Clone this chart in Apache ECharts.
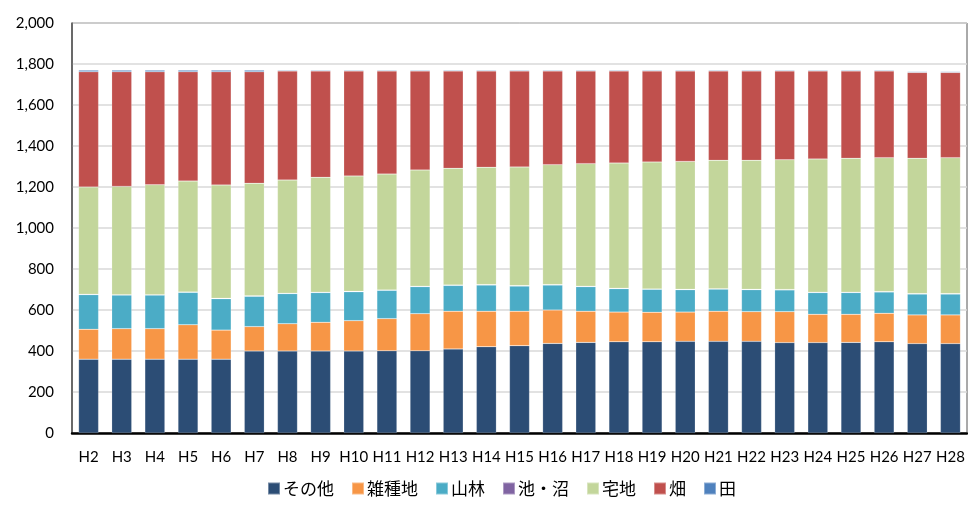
<!DOCTYPE html>
<html><head><meta charset="utf-8">
<script src="https://cdn.jsdelivr.net/npm/echarts@6/dist/echarts.min.js"></script>
<style>html,body{margin:0;padding:0;background:#fff}#c{width:968px;height:505px}</style>
</head><body><div id="c"></div>
<script>
const categories = ['H2','H3','H4','H5','H6','H7','H8','H9','H10','H11','H12','H13','H14','H15','H16','H17','H18','H19','H20','H21','H22','H23','H24','H25','H26','H27','H28'];
const sonota  = [360,360,360,360,360,400,400,400,400,401,401,410,421,426,437,442,445,445,447,447,447,441,441,442,445,436,436];
const zasshu  = [146,149,149,168,142,119,133,140,148,157,181,184,173,168,163,152,145,144,143,147,145,151,138,137,139,140,140];
const sanrin  = [169,164,164,158,153,148,147,145,141,138,132,126,128,123,122,120,114,112,109,108,107,106,106,106,104,102,102];
const ike     = [2,2,2,2,2,2,2,2,2,2,2,2,2,2,2,2,2,2,2,2,2,2,2,2,2,2,2];
const takuchi = [523,528,536,541,553,549,552,560,563,565,567,569,572,579,585,598,611,619,624,626,629,633,650,653,653,660,663];
const hata    = [562,559,551,533,552,544,532,519,512,503,483,475,470,468,457,452,449,444,441,436,436,433,429,426,423,419,416];
const ta      = [8,8,8,8,8,8,4,4,4,4,4,4,4,4,4,4,4,4,4,4,4,4,4,4,4,4,4];
const yTicks = {min:0, max:2000, interval:200};

const names = ['その他','雑種地','山林','池・沼','宅地','畑','田'];
const colors = ['#2C4D75','#F79646','#4BACC6','#8064A2','#C3D69B','#C0504D','#4F81BD'];
const datas = [sonota, zasshu, sanrin, ike, takuchi, hata, ta];

const chart = echarts.init(document.getElementById('c'));
chart.setOption({
  animation:false,
  grid:{left:72, right:1, top:23, bottom:72, show:true, borderColor:'#555', borderWidth:1},
  legend:{
    data:names, bottom:3, left:262, itemWidth:12, itemHeight:12, itemGap:17,
    icon:'rect',
    textStyle:{fontFamily:'Noto Sans CJK JP', fontSize:17, color:'#000', padding:[0,0,0,-2]}
  },
  xAxis:{
    type:'category', data:categories,
    axisLine:{lineStyle:{color:'#000', width:2.5}},
    axisTick:{show:false},
    axisLabel:{fontFamily:'Lato', fontSize:15, color:'#000', margin:17, interval:0}
  },
  yAxis:{
    type:'value', min:yTicks.min, max:yTicks.max, interval:yTicks.interval,
    axisLine:{show:true, lineStyle:{color:'#555', width:1.5}},
    axisTick:{show:false},
    splitLine:{lineStyle:{color:'#D9D9D9', width:1.5}},
    axisLabel:{fontFamily:'Lato', fontSize:15, color:'#000', margin:18,
      formatter:v=>v.toLocaleString('en-US')}
  },
  series: names.map((n,i)=>({
    name:n, type:'bar', stack:'t', data:datas[i], barWidth:20,
    itemStyle:{color:colors[i], borderColor:'rgba(255,255,255,0.35)', borderWidth:0.5}
  }))
});
</script></body></html>
